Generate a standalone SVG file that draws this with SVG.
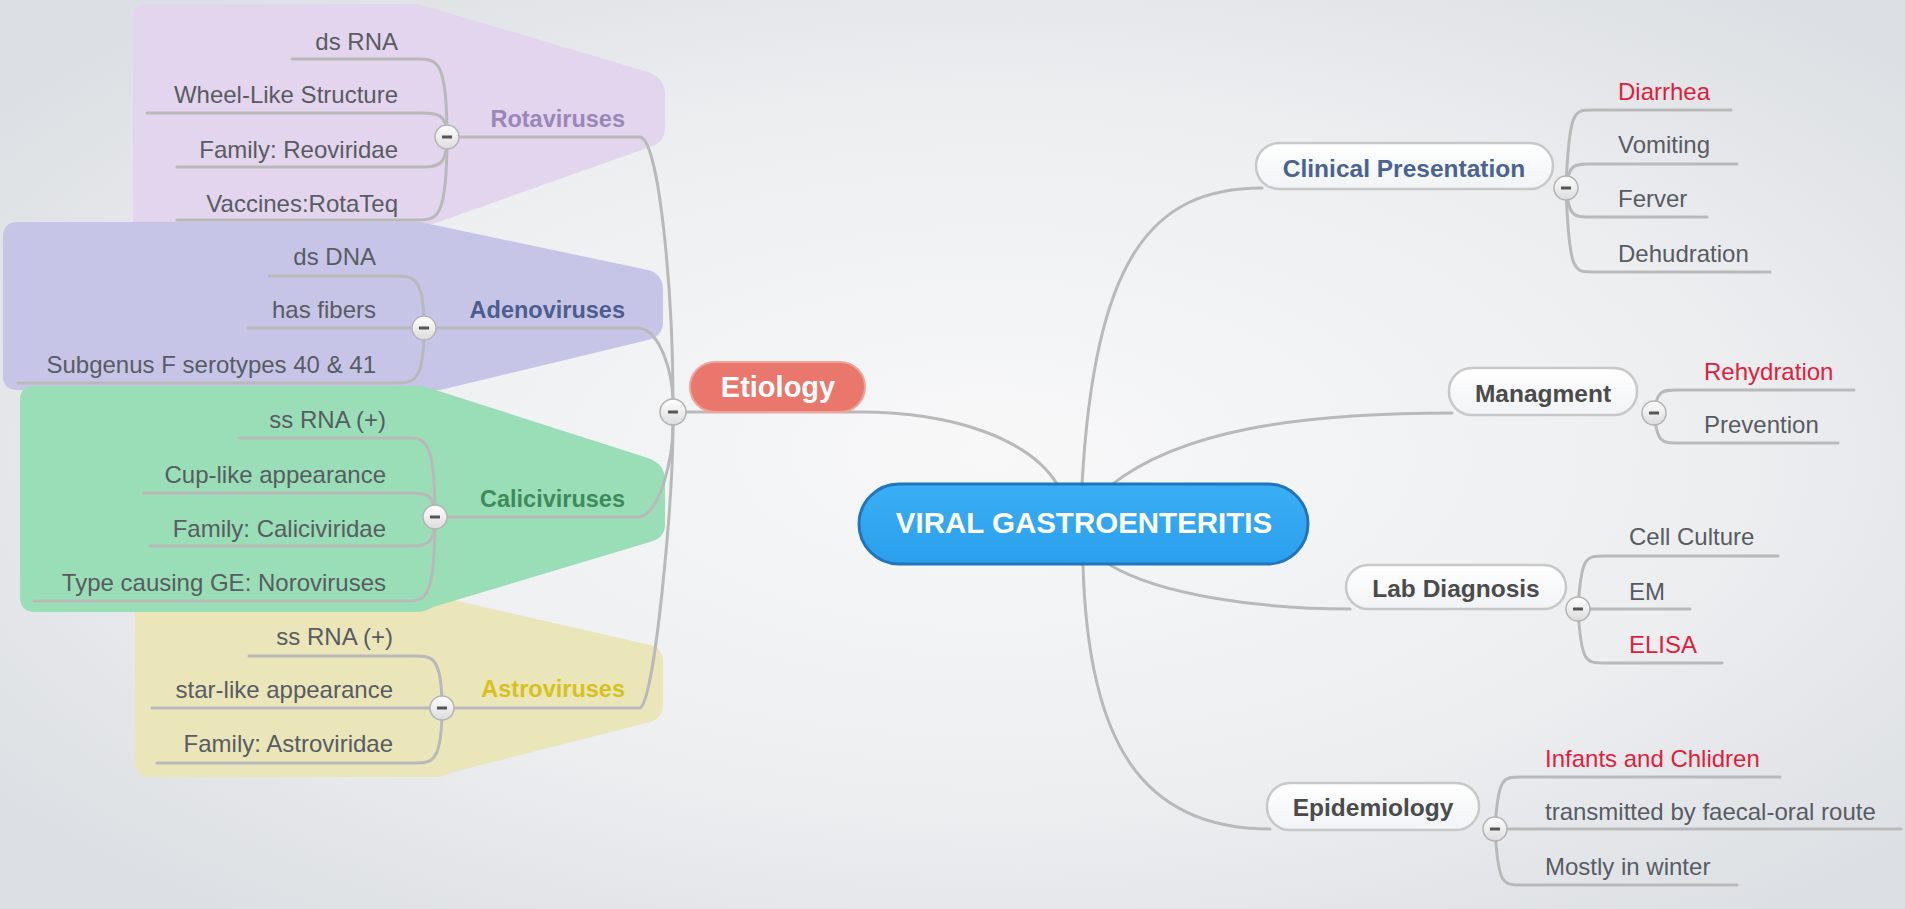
<svg xmlns="http://www.w3.org/2000/svg" width="1905" height="909" viewBox="0 0 1905 909">
<defs>
<radialGradient id="bg" cx="52%" cy="50%" r="65%">
<stop offset="0" stop-color="#f8f8f9"/>
<stop offset="0.6" stop-color="#eceef0"/>
<stop offset="1" stop-color="#dcdfe3"/>
</radialGradient>
<linearGradient id="topicFill" x1="0" y1="0" x2="0" y2="1">
<stop offset="0" stop-color="#ffffff"/>
<stop offset="1" stop-color="#f1f3f6"/>
</linearGradient>
<linearGradient id="circFill" x1="0" y1="0" x2="0" y2="1">
<stop offset="0" stop-color="#ffffff"/>
<stop offset="1" stop-color="#dcdcdc"/>
</linearGradient>
<linearGradient id="centralFill" x1="0" y1="0" x2="0" y2="1">
<stop offset="0" stop-color="#3aaef5"/>
<stop offset="1" stop-color="#2a9fec"/>
</linearGradient>
</defs>
<style>
.leaf{font-family:"Liberation Sans",Arial,sans-serif;font-size:24px;fill:#585c62}
.red{fill:#e01e3c}
.sub{font-family:"Liberation Sans",Arial,sans-serif;font-size:23.5px;font-weight:bold;text-anchor:end}
.topic{font-family:"Liberation Sans",Arial,sans-serif;font-size:24.5px;font-weight:bold;fill:#4b4b4b;text-anchor:middle}
.conn{fill:none;stroke:#b9b9b9;stroke-width:3;stroke-linecap:round}
.tbox{fill:url(#topicFill);stroke:#c8c8c8;stroke-width:2.5}
.circ{fill:url(#circFill);stroke:#b3b3b3;stroke-width:1.5}
.minus{fill:#555}
.end{text-anchor:end}
</style>
<rect x="0" y="0" width="1905" height="909" fill="url(#bg)"/>

<g id="boundaries">
<path d="M133,18 Q133,4 147,4 L418,4 L648,72 Q665,78 665,95 L665,128 Q665,142 650,147 L430,225 L133,225 Z" fill="#e2d5ed"/>
<path d="M3,237 Q3,222 18,222 L420,222 L648,270 Q663,274 663,290 L663,322 Q663,336 648,340 L440,390 L18,390 Q3,390 3,376 Z" fill="#c6c5e7"/>
<path d="M135,598 L445,598 L650,645 Q663,648 663,662 L663,705 Q663,718 650,722 L450,773 Q445,777 435,777 L150,777 Q135,777 135,762 Z" fill="#ebe5ba"/>
<path d="M20,400 Q20,386 35,386 L423,386 L648,458 Q665,464 665,480 L665,525 Q665,538 650,542 L433,607 Q425,612 415,612 L35,612 Q20,612 20,597 Z" fill="#99deb6"/>
</g>

<g id="connectors">
<path class="conn" d="M673,412 H860 C955,412 1030,440 1057,484"/>
<path class="conn" d="M1082,484 C1095,260 1150,188 1262,188"/>
<path class="conn" d="M1110,486 C1180,430 1300,413 1452,413"/>
<path class="conn" d="M1110,565 C1160,595 1260,609 1350,609"/>
<path class="conn" d="M1083,565 C1088,740 1140,829 1270,829"/>
<path class="conn" d="M447,137 H640 C660,140 673,300 673,400"/>
<path class="conn" d="M424,328 H640 C660,332 672,370 673,400"/>
<path class="conn" d="M435,517 H640 C660,512 673,460 673,424"/>
<path class="conn" d="M442,708 H640 C655,700 673,500 673,424"/>
<path class="conn" d="M447,137 C447,59 437,59 417,59 H292"/>
<path class="conn" d="M447,137 C447,113 437,113 420,113 H147"/>
<path class="conn" d="M447,137 C447,167 437,167 420,167 H177"/>
<path class="conn" d="M447,137 C447,220 437,220 417,220 H177"/>
<path class="conn" d="M424,328 C424,276 414,276 394,276 H269"/>
<path class="conn" d="M424,328 H248"/>
<path class="conn" d="M424,328 C424,383 414,383 394,383 H18"/>
<path class="conn" d="M435,517 C435,438 425,438 407,438 H239"/>
<path class="conn" d="M435,517 C435,493 425,493 409,493 H144"/>
<path class="conn" d="M435,517 C435,546 425,546 409,546 H150"/>
<path class="conn" d="M435,517 C435,601 425,601 407,601 H34"/>
<path class="conn" d="M442,708 C442,656 432,656 414,656 H249"/>
<path class="conn" d="M442,708 H152"/>
<path class="conn" d="M442,708 C442,763 432,763 414,763 H157"/>
<path class="conn" d="M1566,188 C1569,110 1574,110 1592,110 H1731"/>
<path class="conn" d="M1566,188 C1569,164 1574,164 1590,164 H1737"/>
<path class="conn" d="M1566,188 C1569,217 1574,217 1590,217 H1707"/>
<path class="conn" d="M1566,188 C1569,272 1574,272 1592,272 H1770"/>
<path class="conn" d="M1654,413 C1657,390 1662,390 1678,390 H1854"/>
<path class="conn" d="M1654,413 C1657,443 1662,443 1678,443 H1838"/>
<path class="conn" d="M1578,609 C1581,556 1586,556 1604,556 H1778"/>
<path class="conn" d="M1578,609 H1690"/>
<path class="conn" d="M1578,609 C1581,663 1586,663 1604,663 H1722"/>
<path class="conn" d="M1495,829 C1498,777 1503,777 1521,777 H1780"/>
<path class="conn" d="M1495,829 H1901"/>
<path class="conn" d="M1495,829 C1498,885 1503,885 1521,885 H1737"/>
</g>

<g id="central">
<rect x="859" y="484" width="449" height="80" rx="40" fill="url(#centralFill)" stroke="#2174bd" stroke-width="3"/>
<text x="1084" y="533" font-family="Liberation Sans, Arial, sans-serif" font-size="29.5" font-weight="bold" fill="#ffffff" text-anchor="middle">VIRAL GASTROENTERITIS</text>
</g>

<g id="etiology">
<rect x="690" y="362" width="175" height="50" rx="25" fill="#e9776b" stroke="#efa398" stroke-width="2"/>
<text x="778" y="397" font-family="Liberation Sans, Arial, sans-serif" font-size="29" font-weight="bold" fill="#ffffff" text-anchor="middle">Etiology</text>
</g>

<g id="rotaviruses">
<text class="sub" x="625" y="127" fill="#9a87b9">Rotaviruses</text>
<text class="leaf end" x="398" y="50">ds RNA</text>
<text class="leaf end" x="398" y="103">Wheel-Like Structure</text>
<text class="leaf end" x="398" y="158">Family: Reoviridae</text>
<text class="leaf end" x="398" y="212">Vaccines:RotaTeq</text>
</g>

<g id="adenoviruses">
<text class="sub" x="625" y="318" fill="#4c5e8e">Adenoviruses</text>
<text class="leaf end" x="376" y="265">ds DNA</text>
<text class="leaf end" x="376" y="318">has fibers</text>
<text class="leaf end" x="376" y="373">Subgenus F serotypes 40 &amp; 41</text>
</g>

<g id="caliciviruses">
<text class="sub" x="625" y="507" fill="#3f8a5c">Caliciviruses</text>
<text class="leaf end" x="386" y="428">ss RNA (+)</text>
<text class="leaf end" x="386" y="483">Cup-like appearance</text>
<text class="leaf end" x="386" y="537">Family: Caliciviridae</text>
<text class="leaf end" x="386" y="591">Type causing GE: Noroviruses</text>
</g>

<g id="astroviruses">
<text class="sub" x="625" y="697" fill="#d6c21e">Astroviruses</text>
<text class="leaf end" x="393" y="645">ss RNA (+)</text>
<text class="leaf end" x="393" y="698">star-like appearance</text>
<text class="leaf end" x="393" y="752">Family: Astroviridae</text>
</g>

<g id="clinical">
<rect class="tbox" x="1256" y="143" width="297" height="46" rx="23"/>
<text class="topic" x="1404" y="177" style="fill:#4a6390">Clinical Presentation</text>
<text class="leaf red" x="1618" y="100">Diarrhea</text>
<text class="leaf" x="1618" y="153">Vomiting</text>
<text class="leaf" x="1618" y="207">Ferver</text>
<text class="leaf" x="1618" y="262">Dehudration</text>
</g>

<g id="managment">
<rect class="tbox" x="1449" y="368" width="188" height="47" rx="23"/>
<text class="topic" x="1543" y="402">Managment</text>
<text class="leaf red" x="1704" y="380">Rehydration</text>
<text class="leaf" x="1704" y="433">Prevention</text>
</g>

<g id="lab-diagnosis">
<rect class="tbox" x="1346" y="565" width="220" height="44" rx="22"/>
<text class="topic" x="1456" y="597">Lab Diagnosis</text>
<text class="leaf" x="1629" y="545">Cell Culture</text>
<text class="leaf" x="1629" y="600">EM</text>
<text class="leaf red" x="1629" y="653">ELISA</text>
</g>

<g id="epidemiology">
<rect class="tbox" x="1267" y="783" width="212" height="47" rx="23"/>
<text class="topic" x="1373" y="816">Epidemiology</text>
<text class="leaf red" x="1545" y="767">Infants and Chlidren</text>
<text class="leaf" x="1545" y="820">transmitted by faecal-oral route</text>
<text class="leaf" x="1545" y="875">Mostly in winter</text>
</g>

<g id="collapse-buttons">
<circle class="circ" cx="447" cy="137" r="12"/><rect class="minus" x="442" y="135.5" width="10" height="3"/>
<circle class="circ" cx="424" cy="328" r="12"/><rect class="minus" x="419" y="326.5" width="10" height="3"/>
<circle class="circ" cx="435" cy="517" r="12"/><rect class="minus" x="430" y="515.5" width="10" height="3"/>
<circle class="circ" cx="442" cy="708" r="12"/><rect class="minus" x="437" y="706.5" width="10" height="3"/>
<circle class="circ" cx="673" cy="412" r="13"/><rect class="minus" x="668" y="410.5" width="10" height="3"/>
<circle class="circ" cx="1566" cy="188" r="12"/><rect class="minus" x="1561" y="186.5" width="10" height="3"/>
<circle class="circ" cx="1654" cy="413" r="12"/><rect class="minus" x="1649" y="411.5" width="10" height="3"/>
<circle class="circ" cx="1578" cy="609" r="12"/><rect class="minus" x="1573" y="607.5" width="10" height="3"/>
<circle class="circ" cx="1495" cy="829" r="12"/><rect class="minus" x="1490" y="827.5" width="10" height="3"/>
</g>
</svg>
